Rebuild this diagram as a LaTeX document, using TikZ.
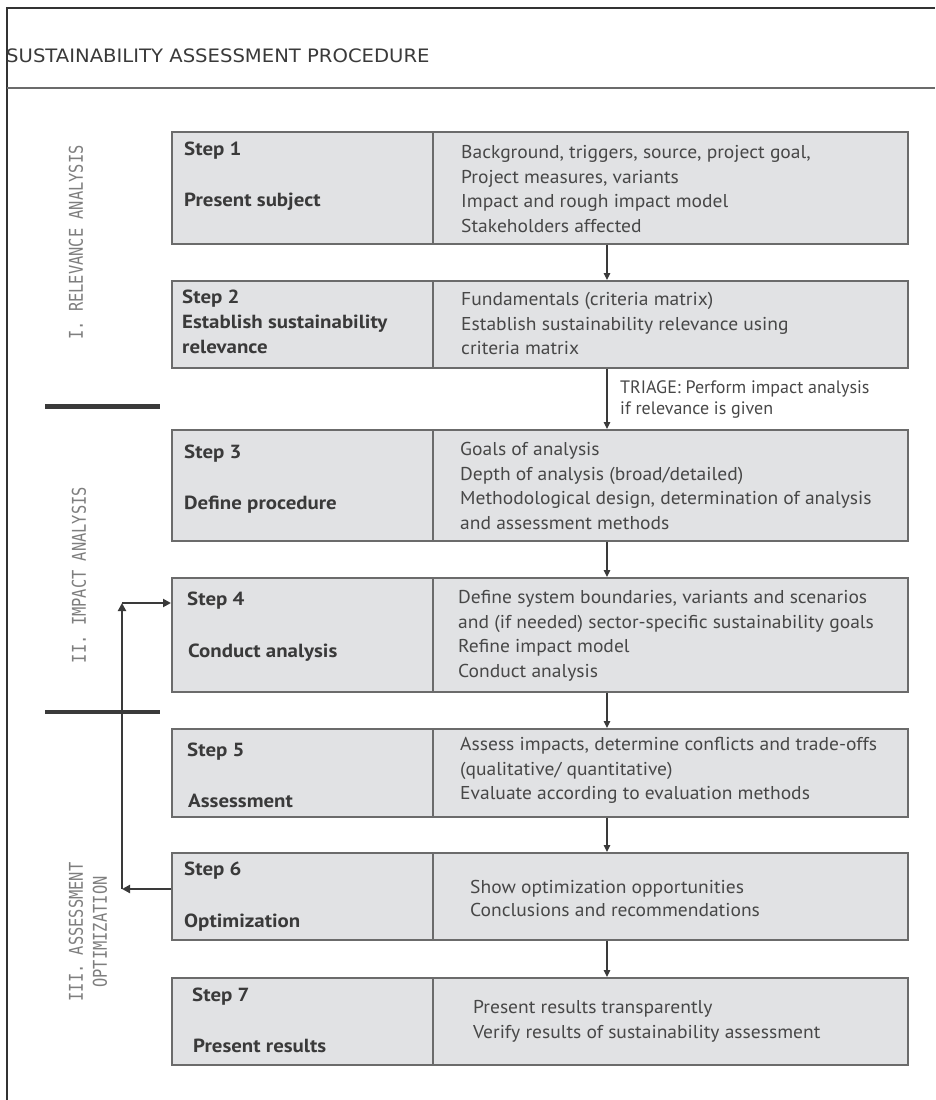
\documentclass[tikz,border=0pt]{standalone}
\usepackage{fontspec}
\setmainfont{PT Sans}
\newfontfamily\labelmono{DejaVu Sans Mono}
\newfontfamily\headsans{DejaVu Sans}
\usetikzlibrary{arrows.meta}

\definecolor{boxfill}{HTML}{E1E2E4}
\definecolor{boxline}{HTML}{6B6B6B}
\definecolor{ink}{HTML}{3A3A3A}
\definecolor{bodyink}{HTML}{474747}
\definecolor{phase}{HTML}{7E7E7E}
\definecolor{frame}{HTML}{333333}

\tikzset{
  cell/.style={draw=boxline, fill=boxfill, line width=1.5pt, inner sep=0pt,
               anchor=north west},
  stepname/.style={font=\fontsize{19}{22}\bfseries\selectfont, text=ink,
               inner sep=0pt, text height=13.3pt, text depth=0pt, anchor=west,
               xscale=1.1},
  desc/.style={font=\fontsize{18.6}{24.6}\selectfont, text=bodyink, align=left,
               inner sep=0pt, anchor=north west, xscale=1.05},
  note/.style={font=\fontsize{18}{21}\selectfont, text=bodyink, align=left,
               inner sep=0pt, anchor=north west},
  phaselabel/.style={font=\labelmono\fontsize{19}{24}\selectfont, text=phase,
               align=center, inner sep=0pt, rotate=90, xscale=0.81},
  flow/.style={draw=ink, line width=1.2pt,
               -{Triangle[width=6.5pt,length=7pt]}},
  loop/.style={draw=ink, line width=2.2pt,
               -{Triangle[width=8pt,length=8pt]}},
  bar/.style={draw=ink, line cap=butt},
}

\begin{document}
\begin{tikzpicture}[x=1pt,y=-1pt]
\useasboundingbox (0,0) rectangle (935,1100);

% outer frame and title strip
\draw[frame, line width=2.2pt] (7,1100) -- (7,8) -- (935,8);
\draw[boxline, line width=1.6pt] (7,88) -- (935,88);
\node[font=\headsans\fontsize{18.5}{22}\selectfont, text=ink, inner sep=0pt,
      text height=13.5pt, text depth=0pt, anchor=west, xscale=1.06]
      (title) at (6,56) {SUSTAINABILITY ASSESSMENT PROCEDURE};

% step cells: left = step name, right = contents
\node[cell, minimum width=261pt, minimum height=112pt] (s1) at (171,131) {};
\node[cell, minimum width=475pt, minimum height=112pt] (d1) at (432,131) {};
\node[cell, minimum width=261pt, minimum height=87pt]  (s2) at (171,280) {};
\node[cell, minimum width=475pt, minimum height=87pt]  (d2) at (432,280) {};
\node[cell, minimum width=261pt, minimum height=111pt] (s3) at (171,429) {};
\node[cell, minimum width=475pt, minimum height=111pt] (d3) at (432,429) {};
\node[cell, minimum width=261pt, minimum height=114pt] (s4) at (171,577) {};
\node[cell, minimum width=475pt, minimum height=114pt] (d4) at (432,577) {};
\node[cell, minimum width=261pt, minimum height=88pt]  (s5) at (171,728) {};
\node[cell, minimum width=475pt, minimum height=88pt]  (d5) at (432,728) {};
\node[cell, minimum width=261pt, minimum height=87pt]  (s6) at (171,852) {};
\node[cell, minimum width=475pt, minimum height=87pt]  (d6) at (432,852) {};
\node[cell, minimum width=261pt, minimum height=87pt]  (s7) at (171,977) {};
\node[cell, minimum width=475pt, minimum height=87pt]  (d7) at (432,977) {};

% step names
\node[stepname] (s1a) at (184,149) {Step 1};
\node[stepname] (s1b) at (184,200) {Present subject};
\node[stepname] (s2a) at (182,297) {Step 2};
\node[stepname] (s2b) at (182,322) {Establish sustainability};
\node[stepname] (s2c) at (182,347) {relevance};
\node[stepname] (s3a) at (184,452) {Step 3};
\node[stepname] (s3b) at (184,503) {Define procedure};
\node[stepname] (s4a) at (187,599) {Step 4};
\node[stepname] (s4b) at (188,651) {Conduct analysis};
\node[stepname] (s5a) at (187,750) {Step 5};
\node[stepname] (s5b) at (188,801) {Assessment};
\node[stepname] (s6a) at (184,869) {Step 6};
\node[stepname] (s6b) at (184,921) {Optimization};
\node[stepname] (s7a) at (192,995) {Step 7};
\node[stepname] (s7b) at (193,1046) {Present results};

% step contents
\node[desc] (t1) at (461,145.2) {Background, triggers, source, project goal,\\
  Project measures, variants\\Impact and rough impact model\\Stakeholders affected};
\node[desc] (t2) at (461,292.2) {Fundamentals (criteria matrix)\\
  Establish sustainability relevance using\\criteria matrix};
\node[desc] (t3) at (460,442.2) {Goals of analysis\\Depth of analysis (broad/detailed)\\
  Methodological design, determination of analysis\\and assessment methods};
\node[desc] (t4) at (458,590.2) {Define system boundaries, variants and scenarios\\
  and (if needed) sector-specific sustainability goals\\Refine impact model\\Conduct analysis};
\node[desc] (t5) at (460,737.2) {Assess impacts, determine conflicts and trade-offs\\
  (qualitative/ quantitative)\\Evaluate according to evaluation methods};
\node[desc, font=\fontsize{18.6}{23}\selectfont] (t6) at (470,880.2)
  {Show optimization opportunities\\Conclusions and recommendations};
\node[desc, font=\fontsize{18.6}{25}\selectfont] (t7) at (473,1000.2)
  {Present results transparently\\Verify results of sustainability assessment};

% main flow
\coordinate (ax) at (607,0);
\draw[flow] (ax |- d1.south) -- (ax |- d2.north);
\draw[flow] (ax |- d2.south) -- (ax |- d3.north);
\draw[flow] (ax |- d3.south) -- (ax |- d4.north);
\draw[flow] (ax |- d4.south) -- (ax |- d5.north);
\draw[flow] (ax |- d5.south) -- (ax |- d6.north);
\draw[flow] (ax |- d6.south) -- (ax |- d7.north);
\node[note] (triage) at (620,380.5) {TRIAGE: Perform impact analysis\\if relevance is given};

% phase labels and separators
\node[phaselabel] (p1) at (76,242.5) {I. RELEVANCE ANALYSIS};
\node[phaselabel] (p2) at (79,575) {II. IMPACT ANALYSIS};
\node[phaselabel] (p3) at (88,932) {III. ASSESSMENT\\OPTIMIZATION};
\draw[bar, line width=5pt] (45,406) -- (160,406);
\draw[bar, line width=4pt] (45,712) -- (160,712);

% feedback loop from optimization back to analysis
\coordinate (c1) at (122,889);
\coordinate (c2) at (122,603);
\draw[loop] (s6.west |- c1) -- (c1);
\draw[loop] (c1) -- (c2);
\draw[loop] (c2) -- (c2 -| s4.west);
\end{tikzpicture}
\end{document}
